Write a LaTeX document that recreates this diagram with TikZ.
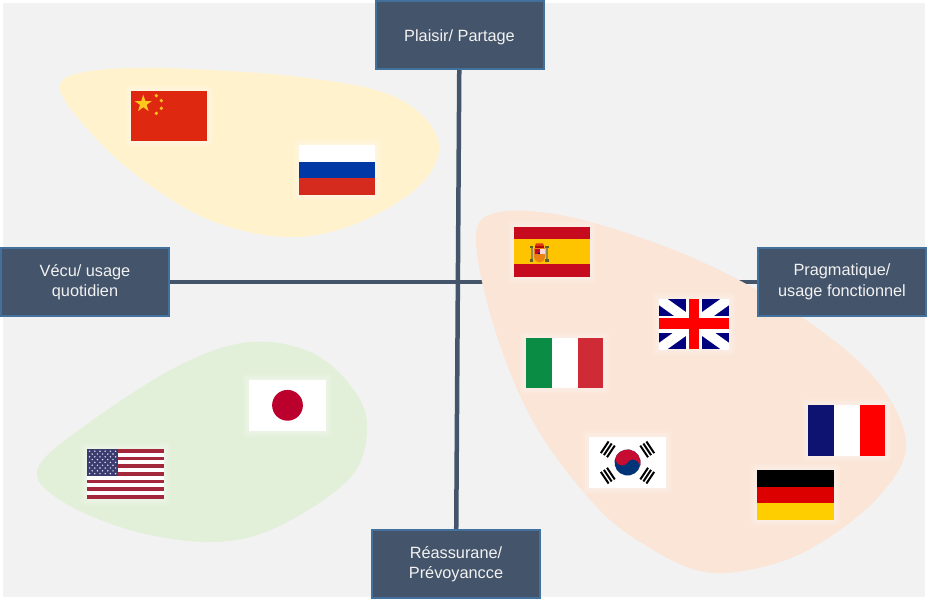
\documentclass[tikz,border=0pt]{standalone}
\usepackage{fontspec}
\setmainfont{Liberation Sans}
\usetikzlibrary{shapes.geometric}
\pgfdeclarelayer{back}
\pgfsetlayers{back,main}
\definecolor{slate}{HTML}{44546A}
\definecolor{edgeblue}{HTML}{41719C}
\definecolor{panel}{HTML}{F2F2F2}
\definecolor{blobY}{HTML}{FFF2CC}
\definecolor{blobO}{HTML}{FBE5D6}
\definecolor{blobG}{HTML}{E2F0D9}
\definecolor{cnred}{HTML}{DE2910}
\definecolor{cnyel}{HTML}{FFC81E}
\definecolor{rublue}{HTML}{0039A6}
\definecolor{rured}{HTML}{D52B1E}
\definecolor{esred}{HTML}{C60B1E}
\definecolor{esyel}{HTML}{FFC400}
\definecolor{ukblue}{HTML}{00007F}
\definecolor{itgreen}{HTML}{0B8C45}
\definecolor{itred}{HTML}{CE2B37}
\definecolor{frblue}{HTML}{0E1270}
\definecolor{degold}{HTML}{FFCE00}
\definecolor{dered}{HTML}{DD0000}
\definecolor{krred}{HTML}{C60C30}
\definecolor{krblue}{HTML}{003478}
\definecolor{jpred}{HTML}{BC002D}
\definecolor{usred}{HTML}{A3283C}
\definecolor{usblue}{HTML}{3C3B6E}
\tikzset{
  axisbox/.style={draw=edgeblue,line width=2pt,fill=slate,text=white!95!black,
    minimum width=168pt,minimum height=68pt,inner sep=0pt,align=center,
    font=\fontsize{16.3}{20.5}\selectfont},
  axisline/.style={draw=slate,line width=4.5pt},
  halo/.style={fill=white,opacity=0.13,rounded corners=3pt}
}
\newcommand{\flaghalo}[2]{%
  \fill[halo] (-6,-6) rectangle (#1+6,#2+6);
  \fill[halo] (-4,-4) rectangle (#1+4,#2+4);
  \fill[halo] (-2,-2) rectangle (#1+2,#2+2);}
\begin{document}
\begin{tikzpicture}[x=1pt,y=-1pt]
\useasboundingbox (0,0) rectangle (928,599);
% axis boxes
\node[axisbox,text depth=0pt] (top) at (459.5,35) {\raisebox{-1pt}{Plaisir/ Partage}};
\node[axisbox] (bottom) at (456,564) {\raisebox{-1pt}{Réassurane/}\\\raisebox{-1pt}{Prévoyancce}};
\node[axisbox] (left) at (85,282) {\raisebox{-1pt}{Vécu/ usage}\\\raisebox{-1pt}{quotidien}};
\node[axisbox] (right) at (842,282) {\raisebox{-1pt}{Pragmatique/}\\\raisebox{-1pt}{usage fonctionnel}};
\begin{pgfonlayer}{back}
\fill[white] (0,0) rectangle (928,599);
\fill[panel] (3,3) rectangle (925,597);
\draw[axisline] (top) -- (bottom);
\draw[axisline] (left) -- (right);
\fill[blobY] plot[smooth cycle,tension=0.6] coordinates {(60,86) (85,72) (160,68) (300,77) (395,97) (438,140) (420,185) (355,224) (285,237) (205,218) (130,170) (78,118)};
\fill[blobO] plot[smooth cycle,tension=0.6] coordinates {(476,240) (495,213) (560,215) (650,241) (735,278) (820,330) (880,385) (906,445) (880,495) (825,540) (770,565) (705,572) (645,545) (595,505) (535,425) (495,330)};
\fill[blobG] plot[smooth cycle,tension=0.6] coordinates {(38,468) (90,422) (180,365) (250,342) (310,352) (350,385) (367,425) (350,478) (275,528) (210,542) (130,530) (60,500)};
\end{pgfonlayer}
% China
\begin{scope}[shift={(131,91)}]
\flaghalo{76}{50}
\fill[cnred] (0,0) rectangle (76,50);
\node[star,star points=5,star point ratio=2.6,fill=cnyel,inner sep=0pt,minimum size=18pt] (chinastar) at (12.3,12.8) {};
\foreach \p in {(25.3,4.7),(30.3,9.7),(30.3,17.3),(25.3,22.3)} \fill[cnyel] \p circle (1.8);
\end{scope}
% Russia
\begin{scope}[shift={(299,145)}]
\flaghalo{76}{50}
\fill[white] (0,0) rectangle (76,17);
\fill[rublue] (0,16.7) rectangle (76,33.4);
\fill[rured] (0,33.4) rectangle (76,50);
\end{scope}
% Spain
\begin{scope}[shift={(514,227)}]
\flaghalo{76}{50}
\fill[esred] (0,0) rectangle (76,50);
\fill[esyel] (0,12.4) rectangle (76,37.4);
% coat of arms
\fill[red!70!black] (21,18) rectangle (30,21);
\fill[esred!60!orange] (22,16.3) -- (29,16.3) -- (30,19) -- (21,19) -- cycle;
\fill[orange!70!brown] (20,21) -- (31,21) -- (31,30) arc[start angle=0,delta angle=180,radius=5.5] -- cycle;
\fill[esred] (20.5,21.5) rectangle (25.5,27);
\fill[pink!60!white] (25.5,21.5) rectangle (30.5,27);
\fill[blue!50!black] (25,26.3) circle (1);
\foreach \s in {17.6,33} {
  \fill[gray!60!olive] (\s-1,20) rectangle (\s+1,33);
  \fill[olive!60!black] (\s-1.6,19) rectangle (\s+1.6,21);
  \fill[olive!60!black] (\s-1.6,32) rectangle (\s+1.6,34.5);
}
\end{scope}
% UK
\begin{scope}[shift={(659,299)}]
\flaghalo{70}{50}
\clip[preaction={fill=ukblue}] (0,0) rectangle (70,50);
\draw[white,line width=10pt] (0,0) -- (70,50) (70,0) -- (0,50);
\fill[white] (26.7,0) rectangle (43.3,50);
\fill[white] (0,16.7) rectangle (70,33.7);
\fill[red] (30,0) rectangle (40,50);
\fill[red] (0,19.3) rectangle (70,30);
\end{scope}
% Italy
\begin{scope}[shift={(526,338)}]
\flaghalo{77}{50}
\fill[white] (0,0) rectangle (77,50);
\fill[itgreen] (0,0) rectangle (25.5,50);
\fill[itred] (51.5,0) rectangle (77,50);
\end{scope}
% France
\begin{scope}[shift={(808,405)}]
\flaghalo{77}{51}
\fill[white] (0,0) rectangle (77,51);
\fill[frblue] (0,0) rectangle (25.5,51);
\fill[red] (51.5,0) rectangle (77,51);
\end{scope}
% Germany
\begin{scope}[shift={(757,470)}]
\flaghalo{77}{50}
\fill[black] (0,0) rectangle (77,16.7);
\fill[dered] (0,16.7) rectangle (77,33.4);
\fill[degold] (0,33.4) rectangle (77,50);
\end{scope}
% Korea
\begin{scope}[shift={(589,437)}]
\flaghalo{77}{51}
\fill[white] (0,0) rectangle (77,51);
\begin{scope}[shift={(38.5,25.5)},rotate=-33.7]
\fill[krblue] (0,0) circle (13);
\fill[krred] (-13,0) arc[start angle=180,end angle=360,radius=13] arc[start angle=0,end angle=-180,radius=6.5] arc[start angle=0,end angle=180,radius=6.5] -- cycle;
\end{scope}
\foreach \a in {33.7,146.3,213.7,326.3}{
  \begin{scope}[shift={(38.5,25.5)},rotate=\a]
  \foreach \d in {-20,-23.7,-27.4} \draw[black,line width=2pt] (\d,-7) -- (\d,7);
  \end{scope}}
\end{scope}
% Japan
\begin{scope}[shift={(249,380)}]
\flaghalo{77}{51}
\fill[white] (0,0) rectangle (77,51);
\fill[jpred] (38.5,25.3) circle (15.4);
\end{scope}
% USA
\begin{scope}[shift={(87,449)}]
\flaghalo{77}{50}
\fill[white] (0,0) rectangle (77,50);
\foreach \i in {0,2,...,12} \fill[usred] (0,\i*50/13) rectangle (77,\i*50/13+3.5);
\fill[usblue] (0,0) rectangle (31,26.9);
\foreach \r in {0,2,4,6,8}{
  \foreach \c in {0,...,5}{
    \fill[white!90!blue] ({2.6+\c*5.2},{2.2+\r*2.8}) circle (0.8);
  }}
\foreach \r in {1,3,5,7}{
  \foreach \c in {0,...,4}{
    \fill[white!90!blue] ({5.2+\c*5.2},{2.2+\r*2.8}) circle (0.8);
  }}
\end{scope}
\end{tikzpicture}
\end{document}
